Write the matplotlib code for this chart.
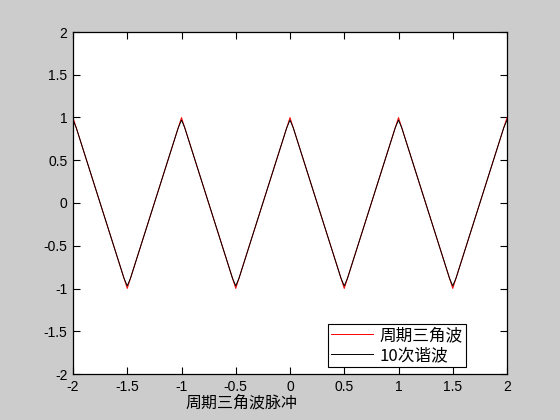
import matplotlib
matplotlib.use("Agg")
import matplotlib.pyplot as plt

plt.rcParams['font.family'] = ['Liberation Sans', 'Noto Sans CJK SC', 'DejaVu Sans']
plt.rcParams['axes.unicode_minus'] = False

# periodic triangle wave (vertices)
tri_x = [-2, -1.5, -1, -0.5, 0, 0.5, 1, 1.5, 2]
tri_y = [1, -1, 1, -1, 1, -1, 1, -1, 1]

# 10th-harmonic approximation (slightly rounded peaks)
harm_x = [-2, -1.97, -1.53, -1.5, -1.47, -1.03, -1, -0.97, -0.53, -0.5, -0.47,
          -0.03, 0, 0.03, 0.47, 0.5, 0.53, 0.97, 1, 1.03, 1.47, 1.5, 1.53, 1.97, 2]
harm_y = [0.97, 0.88, -0.88, -0.97, -0.88, 0.88, 0.97, 0.88, -0.88, -0.97, -0.88,
          0.88, 0.97, 0.88, -0.88, -0.97, -0.88, 0.88, 0.97, 0.88, -0.88, -0.97, -0.88, 0.88, 0.97]

ticks = [-2, -1.5, -1, -0.5, 0, 0.5, 1, 1.5, 2]
tick_labels = ['-2', '-1.5', '-1', '-0.5', '0', '0.5', '1', '1.5', '2']

fig = plt.figure(figsize=(5.6, 4.2), dpi=100, facecolor='#cccccc')
ax = fig.add_axes([73/560, 1 - 374/420, (507-73)/560, (374-32)/420])
ax.set_facecolor('white')

ax.plot(tri_x, tri_y, color='red', lw=0.7, label='周期三角波')
ax.plot(harm_x, harm_y, color='black', lw=0.7, label='10次谐波')

ax.set_xlim(-2, 2)
ax.set_ylim(-2, 2)
ax.set_xticks(ticks)
ax.set_xticklabels(tick_labels)
ax.set_yticks(ticks)
ax.set_yticklabels(tick_labels)
ax.tick_params(direction='in', length=5, width=0.8, top=True, right=True,
               labelsize=10, pad=4, colors='black')
for s in ax.spines.values():
    s.set_linewidth(0.9)

leg = ax.legend(loc='lower right', bbox_to_anchor=(0.905, 0.02), fancybox=False,
                framealpha=1, edgecolor='black', fontsize=12, handlelength=2.5,
                borderpad=0.2, labelspacing=0.15, handletextpad=0.4, borderaxespad=0)
leg.get_frame().set_linewidth(0.8)
for t in leg.get_texts():
    t.set_fontfamily(['Noto Sans CJK SC', 'DejaVu Sans'])

fig.text(185/560, 1 - 403/420, '周期三角波脉冲', ha='left', va='center',
         fontsize=11.5, family=['Noto Sans CJK SC', 'DejaVu Sans'])

fig.savefig('out.png', dpi=100, facecolor=fig.get_facecolor())
